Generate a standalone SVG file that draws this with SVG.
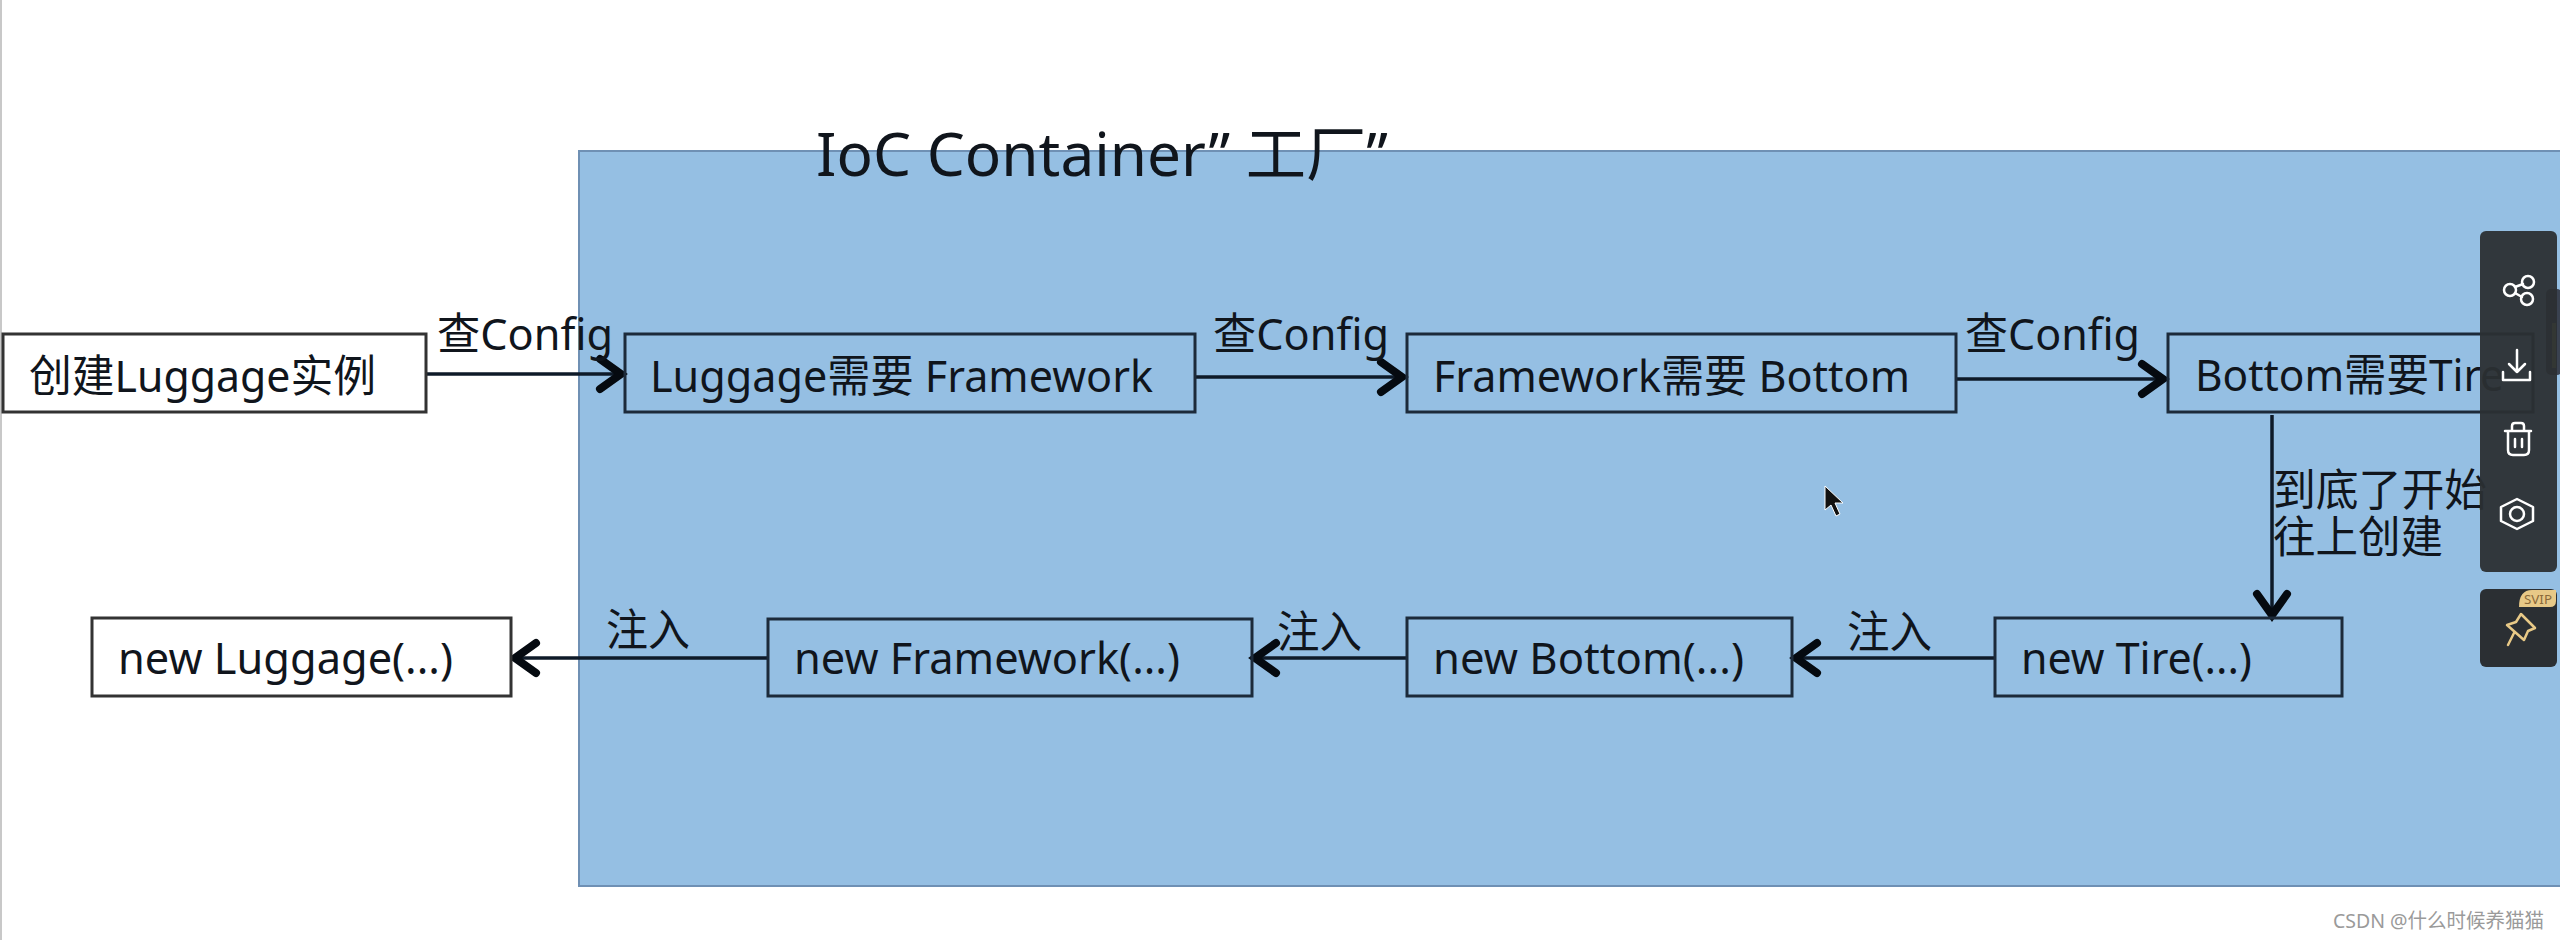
<svg xmlns="http://www.w3.org/2000/svg" width="2560" height="940" viewBox="0 0 2560 940">
<style>
text{font-family:"Noto Sans","Noto Sans CJK SC",sans-serif;fill:#10151c;font-size:44px}
.box{stroke:#1c2a3a;stroke-width:3;fill:none}
.wbox{stroke:#333;stroke-width:3;fill:#fff}
.con{stroke:#0e1a28;stroke-width:3.5;fill:none;marker-end:url(#arrow)}
.ico{fill:none;stroke:#fff;stroke-width:2.5;stroke-linecap:round;stroke-linejoin:round}
</style>
<defs>
<marker id="arrow" markerUnits="userSpaceOnUse" markerWidth="40" markerHeight="44" refX="30" refY="22" orient="auto">
<path d="M6 7 L27 22 L6 37" fill="none" stroke="#050a10" stroke-width="8" stroke-linecap="round" stroke-linejoin="miter"/>
</marker>
</defs>
<rect width="2560" height="940" fill="#fff"/>
<rect x="0" y="0" width="2" height="940" fill="#c8c8c8"/>
<g id="container">
<rect x="579" y="151" width="1983" height="735" fill="#95bfe3" stroke="#6f90b4" stroke-width="2"/>
<text x="816" y="176" style="font-size:60px" textLength="572" lengthAdjust="spacingAndGlyphs">IoC Container” 工厂”</text>
</g>
<g id="connectors">
<path class="con" d="M426 374H624"/>
<path class="con" d="M1195 377H1405"/>
<path class="con" d="M1956 379H2166"/>
<path class="con" d="M2272 415V618"/>
<path class="con" d="M1995 658H1793"/>
<path class="con" d="M1407 658H1252"/>
<path class="con" d="M768 658H512"/>
</g>
<g id="n-create"><rect class="wbox" x="3" y="334" width="423" height="78"/><text x="29" y="392" textLength="347" lengthAdjust="spacingAndGlyphs">创建Luggage实例</text></g>
<g id="n-luggage"><rect class="box" x="625" y="334" width="570" height="78"/><text x="650" y="392" textLength="503" lengthAdjust="spacingAndGlyphs">Luggage需要 Framework</text></g>
<g id="n-framework"><rect class="box" x="1407" y="334" width="549" height="78"/><text x="1433" y="392" textLength="477" lengthAdjust="spacingAndGlyphs">Framework需要 Bottom</text></g>
<g id="n-bottom"><rect class="box" x="2168" y="334" width="365" height="78"/><text x="2195" y="391" textLength="309" lengthAdjust="spacingAndGlyphs">Bottom需要Tire</text></g>
<g id="n-newtire"><rect class="box" x="1995" y="618" width="347" height="78"/><text x="2021" y="674" textLength="231" lengthAdjust="spacingAndGlyphs">new Tire(...)</text></g>
<g id="n-newbottom"><rect class="box" x="1407" y="618" width="385" height="78"/><text x="1433" y="674" textLength="311" lengthAdjust="spacingAndGlyphs">new Bottom(...)</text></g>
<g id="n-newframework"><rect class="box" x="768" y="619" width="484" height="77"/><text x="794" y="674" textLength="386" lengthAdjust="spacingAndGlyphs">new Framework(...)</text></g>
<g id="n-newluggage"><rect class="wbox" x="92" y="618" width="419" height="78"/><text x="118" y="674" textLength="335" lengthAdjust="spacingAndGlyphs">new Luggage(...)</text></g>
<g id="labels">
<text x="437" y="350" textLength="176" lengthAdjust="spacingAndGlyphs">查Config</text>
<text x="1213" y="350" textLength="176" lengthAdjust="spacingAndGlyphs">查Config</text>
<text x="1965" y="350" textLength="175" lengthAdjust="spacingAndGlyphs">查Config</text>
<text x="2273" y="506" textLength="214" lengthAdjust="spacingAndGlyphs">到底了开始</text>
<text x="2273" y="553" textLength="170" lengthAdjust="spacingAndGlyphs">往上创建</text>
<text x="1847" y="648" textLength="85" lengthAdjust="spacingAndGlyphs">注入</text>
<text x="1277" y="648" textLength="85" lengthAdjust="spacingAndGlyphs">注入</text>
<text x="606" y="646" textLength="84" lengthAdjust="spacingAndGlyphs">注入</text>
</g>
<g id="cursor"><path d="M1825 486 L1825 510 L1831 505 L1836 516 L1840 514 L1835 503 L1843 503 Z" fill="#111" stroke="#fff" stroke-width="1"/></g>
<g id="toolbar">
<rect x="2546" y="289" width="16" height="86" rx="5" fill="#3a4250"/>
<rect x="2552" y="323" width="4" height="45" fill="#c9b84a"/>
<rect x="2480" y="231" width="77" height="341" rx="6" fill="#2b2f33" fill-opacity=".95"/>
<g class="ico">
<circle cx="2528" cy="282" r="6"/><circle cx="2510" cy="290" r="6"/><circle cx="2527" cy="299" r="6"/><path d="M2515 287L2523 284M2515 293L2522 297"/>
<path d="M2517 350V372M2509 364L2517 372L2525 364M2503 372V380H2530V372"/>
<path d="M2505 431H2531M2512 431V426Q2512 423 2515 423H2521Q2524 423 2524 426V431M2508 431V450Q2508 455 2513 455H2524Q2529 455 2529 450V431M2515 439V447M2522 439V447"/>
<path d="M2517 499L2533 507L2533 521L2517 529L2501 521L2501 507Z"/><circle cx="2517" cy="514" r="7"/>
</g>
<rect x="2480" y="589" width="77" height="78" rx="6" fill="#2b2f33"/>
<path d="M2519 607Q2519 590 2532 590H2556V601Q2556 607 2550 607Z" fill="#e8c987"/>
<text x="2524" y="604" style="font-size:13px;fill:#8a6a3a" textLength="28" lengthAdjust="spacingAndGlyphs">SVIP</text>
<path d="M2521 614L2535 628L2528 631L2524 640L2507 625L2516 622ZM2514 633L2508 645" fill="none" stroke="#e8c987" stroke-width="2.5" stroke-linejoin="round" stroke-linecap="round"/>
</g>
<text id="watermark" x="2333" y="928" style="font-size:20px;fill:#9a9a9a" textLength="211" lengthAdjust="spacingAndGlyphs">CSDN @什么时候养猫猫</text>
</svg>
